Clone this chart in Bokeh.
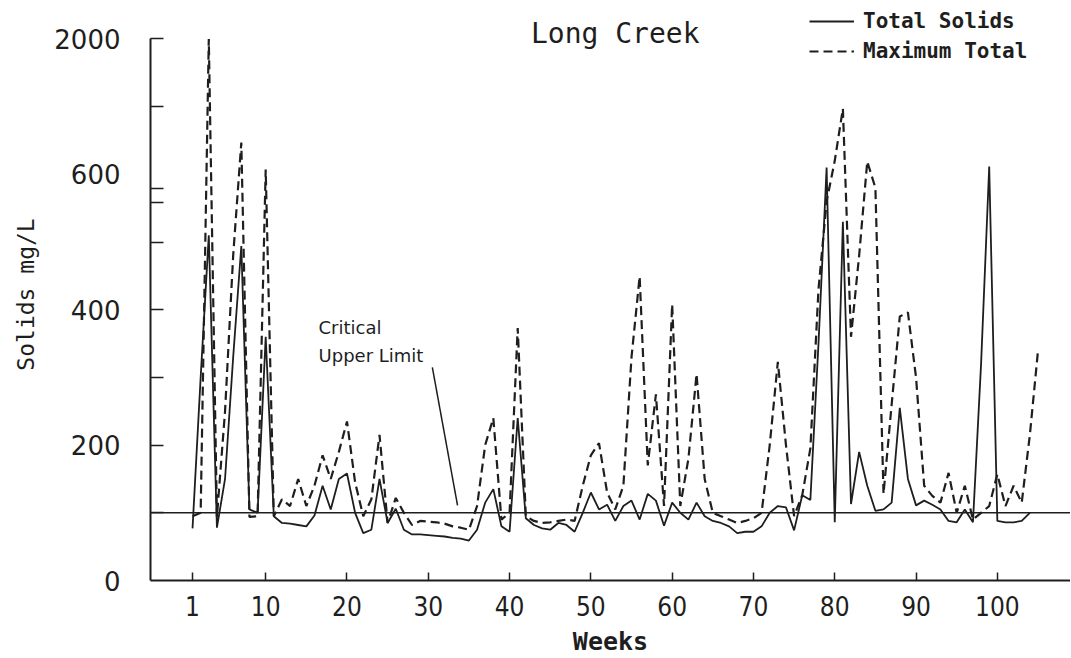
from bokeh.plotting import figure
from bokeh.models import (ColumnDataSource, CustomJSTransform, FixedTicker, Span, Label,
                          Legend, LegendItem, Range1d)
from bokeh.transform import transform
from bokeh.embed import file_html
from bokeh.resources import INLINE

# ---------------- data (mg/L, weekly) ----------------
weeks_total = list(range(1, 105))
total_solids = [
    77, 300, 510, 78, 150, 330, 494, 105, 100, 360,
    95, 85, 84, 82, 80, 96, 140, 105, 150, 158,
    100, 70, 75, 150, 85, 106, 75, 68, 68, 67,
    66, 65, 63, 62, 59, 75, 115, 135, 80, 72,
    240, 92, 82, 77, 75, 85, 82, 72, 100, 130,
    105, 112, 88, 110, 118, 90, 128, 118, 81, 115,
    100, 90, 115, 95, 88, 85, 80, 70, 72, 72,
    80, 100, 110, 108, 74, 126, 119, 350, 670, 86,
    530, 113, 190, 140, 103, 105, 115, 255, 150, 111,
    118, 112, 105, 88, 86, 105, 86, 320, 680, 88,
    86, 86, 88, 100,
]
weeks_max = list(range(1, 106))
maximum_total = [
    95, 100, 2000, 94, 250, 480, 929, 94, 95, 650,
    95, 120, 110, 150, 110, 140, 185, 150, 190, 235,
    145, 95, 120, 215, 85, 122, 100, 82, 88, 87,
    86, 84, 80, 78, 75, 110, 200, 240, 90, 100,
    373, 95, 88, 85, 86, 88, 90, 88, 140, 185,
    203, 130, 105, 140, 330, 449, 170, 275, 110, 408,
    110, 180, 305, 150, 100, 95, 90, 85, 88, 92,
    100, 200, 323, 200, 95, 126, 195, 430, 560, 740,
    1279, 360, 480, 733, 580, 128, 260, 390, 396, 300,
    140, 125, 115, 159, 100, 140, 90, 100, 110, 157,
    110, 140, 115, 215, 339,
]
critical_upper_limit = 100

x_ticks = [1, 10, 20, 30, 40, 50, 60, 70, 80, 90, 100]
y_label_values = [0, 200, 400, 600, 2000]
y_tick_values = [100, 200, 300, 400, 500, 1300, 2000]
axis_break_marks = [558, 579]          # the two short lines of the axis break
BREAK = 600                            # scale is linear up to 600 ...
COMPRESS = 7                           # ... and 7x compressed from 600 to 2000


def to_axis(v):
    return v if v <= BREAK else BREAK + (v - BREAK) / COMPRESS


broken = CustomJSTransform(
    args=dict(brk=BREAK, k=COMPRESS),
    func="return x <= brk ? x : brk + (x - brk) / k",
    v_func="""
        const out = new Float64Array(xs.length);
        for (let i = 0; i < xs.length; i++) {
            const v = xs[i];
            out[i] = v <= brk ? v : brk + (v - brk) / k;
        }
        return out;
    """,
)

src_total = ColumnDataSource(dict(week=weeks_total, solids=total_solids))
src_max = ColumnDataSource(dict(week=weeks_max, solids=maximum_total))

INK = "#1e1e1e"

p = figure(width=1070, height=658,
           x_range=Range1d(-4.17, 109.0), y_range=Range1d(0, 845),
           output_backend="svg", toolbar_location=None,
           min_border_left=150, min_border_right=0,
           min_border_top=8, min_border_bottom=78)
p.outline_line_color = None
p.grid.visible = False
p.background_fill_color = "white"

r_max = p.line("week", transform("solids", broken), source=src_max,
               line_color=INK, line_width=2.2, line_dash="9 5")
r_tot = p.line("week", transform("solids", broken), source=src_total,
               line_color=INK, line_width=1.8)

p.add_layout(Span(location=critical_upper_limit, dimension="width",
                  line_color=INK, line_width=1.5))

# ---------------- axes ----------------
xa = p.xaxis[0]
xa.ticker = FixedTicker(ticks=x_ticks)
xa.axis_line_width = 2
xa.axis_line_color = INK
xa.major_tick_in = 8
xa.major_tick_out = 0
xa.major_tick_line_width = 1.5
xa.major_tick_line_color = INK
xa.minor_tick_line_color = None
xa.major_label_standoff = 15
xa.major_label_text_font = "DejaVu Sans Condensed"
xa.major_label_text_font_size = "26px"
xa.major_label_text_color = INK
xa.axis_label = "Weeks"
xa.axis_label_text_font = "DejaVu Sans Mono"
xa.axis_label_text_font_style = "bold"
xa.axis_label_text_font_size = "25px"
xa.axis_label_text_color = INK
xa.axis_label_standoff = 8

ya = p.yaxis[0]
ya.bounds = (0, to_axis(2000))
ya.ticker = FixedTicker(ticks=[to_axis(v) for v in y_label_values],
                        minor_ticks=[to_axis(v) for v in y_tick_values + axis_break_marks])
ya.major_label_overrides = {to_axis(v): str(v) for v in y_label_values}
ya.axis_line_width = 2
ya.axis_line_color = INK
ya.major_tick_in = 0
ya.major_tick_out = 0
ya.minor_tick_in = 13
ya.minor_tick_out = 0
ya.minor_tick_line_width = 1.5
ya.minor_tick_line_color = INK
ya.major_label_standoff = 30
ya.major_label_text_font = "DejaVu Sans"
ya.major_label_text_font_size = "26px"
ya.major_label_text_color = INK
ya.axis_label = "Solids mg/L"
ya.axis_label_text_font = "DejaVu Sans Mono"
ya.axis_label_text_font_style = "normal"
ya.axis_label_text_font_size = "23px"
ya.axis_label_text_color = INK
ya.axis_label_standoff = 12

# ---------------- title, legend, annotation ----------------
p.add_layout(Label(x=53.0, y=808, text="Long Creek", text_align="center",
                   text_baseline="middle", text_font="DejaVu Sans Mono",
                   text_font_size="28px", text_color=INK))

legend = Legend(items=[LegendItem(label="Total Solids", renderers=[r_tot]),
                       LegendItem(label="Maximum Total", renderers=[r_max])],
                location=(659, 517), orientation="vertical",
                glyph_width=45, glyph_height=24, label_height=24, spacing=6,
                padding=0, margin=0, border_line_color=None,
                background_fill_alpha=0, label_standoff=9,
                label_text_font="DejaVu Sans Mono", label_text_font_style="bold",
                label_text_font_size="21px", label_text_color=INK)
p.add_layout(legend)

note_x, note_y = 16.5, [374, 332]
p.add_layout(Label(x=note_x, y=note_y[0], text="Critical", text_baseline="middle",
                   text_font="DejaVu Sans", text_font_size="18px", text_color=INK))
p.add_layout(Label(x=note_x, y=note_y[1], text="Upper Limit", text_baseline="middle",
                   text_font="DejaVu Sans", text_font_size="18px", text_color=INK))
leader_x = [30.5, 33.6]
leader_y = [315, 111]
p.line(leader_x, leader_y, line_color=INK, line_width=1.5)

open("out.html", "w").write(file_html(p, INLINE))
